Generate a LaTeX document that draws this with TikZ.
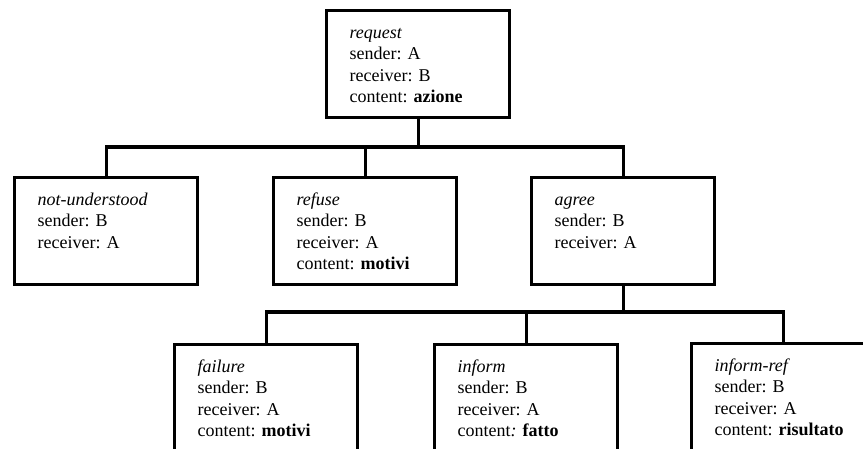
\documentclass[tikz,border=0pt]{standalone}
\usepackage{fontspec}
\setmainfont{Liberation Serif}
\newcommand{\msgtext}[1]{\parbox[c][107pt][t]{137pt}{\fontsize{18pt}{21.3pt}\selectfont\rule{0pt}{28pt}#1}}
\begin{document}
\begin{tikzpicture}[x=1pt,y=-1pt,
  msg/.style={draw, line width=3.3pt, anchor=north west, inner xsep=23pt,
    inner ysep=0pt, minimum width=183pt, minimum height=107pt},
  link/.style={line width=3.3pt}]
\useasboundingbox (0,0) rectangle (863,448);
\clip (0,0) rectangle (863,448);

% message boxes
\node[msg] (req) at (325,9) {\msgtext{\textit{request}\\sender: A\\receiver: B\\content: \textbf{azione}}};
\node[msg] (nu)  at (13,176) {\msgtext{\textit{not-understood}\\sender: B\\receiver: A}};
\node[msg] (rf)  at (272,176) {\msgtext{\textit{refuse}\\sender: B\\receiver: A\\content: \textbf{motivi}}};
\node[msg] (ag)  at (530,176) {\msgtext{\textit{agree}\\sender: B\\receiver: A}};
\node[msg] (fl)  at (173,343) {\msgtext{\textit{failure}\\sender: B\\receiver: A\\content: \textbf{motivi}}};
\node[msg] (inf) at (433,343) {\msgtext{\textit{inform}\\sender: B\\receiver: A\\content\textit{:} \textbf{fatto}}};
\node[msg] (ir)  at (690,342) {\msgtext{\textit{inform-ref}\\sender: B\\receiver: A\\content: \textbf{risultato}}};

% tree connectors
\coordinate (bus1) at (req.south |- 0,147);
\coordinate (bus2) at (ag.south |- 0,312);
\draw[link] (req.south) -- (bus1);
\draw[link] (nu.north) |- (bus1) -| (ag.north);
\draw[link] (rf.north) -- (rf.north |- bus1);
\draw[link] (ag.south) -- (bus2);
\draw[link] (fl.north) |- (bus2) -| (ir.north);
\draw[link] (inf.north) -- (inf.north |- bus2);
\end{tikzpicture}
\end{document}
